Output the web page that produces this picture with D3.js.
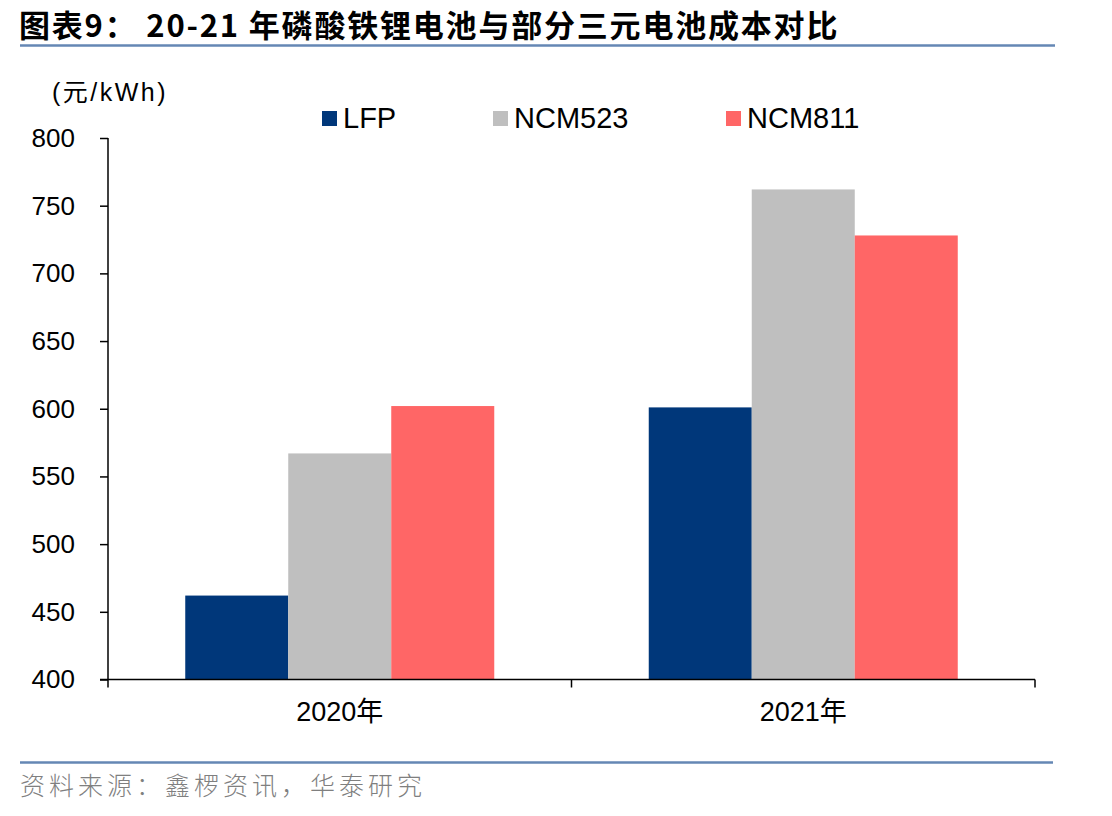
<!DOCTYPE html>
<html>
<head>
<meta charset="utf-8">
<script src="https://cdn.jsdelivr.net/npm/d3@7"></script>
<style>
  body { margin: 0; background: #fff; }
  text { font-family: Arial, "Liberation Sans", "Noto Sans CJK SC", sans-serif; }
</style>
</head>
<body>
<div id="chart"></div>
<script>
// chart data
var categories = ["2020年", "2021年"];
var seriesNames = ["LFP", "NCM523", "NCM811"];
var lfp = [462, 601];
var ncm523 = [567, 762];
var ncm811 = [602, 728];
var yTicks = [400, 450, 500, 550, 600, 650, 700, 750, 800];
var colors = ["#00377a", "#bfbfbf", "#ff6666"];

var width = 1112, height = 816;
var margin = { top: 138, left: 108, right: 77, bottom: 136 };

var svg = d3.select("#chart").append("svg")
    .attr("width", width)
    .attr("height", height);

// title + rule
svg.append("text")
    .attr("x", 19)
    .attr("y", 37)
    .style("font-family", "'Noto Sans CJK SC', sans-serif")
    .style("font-size", "31px")
    .style("font-weight", "bold")
    .style("letter-spacing", "1.8px")
    .text("图表9：  20-21 年磷酸铁锂电池与部分三元电池成本对比");

svg.append("line")
    .attr("x1", 20).attr("x2", 1055)
    .attr("y1", 45.5).attr("y2", 45.5)
    .attr("stroke", "#6587b4")
    .attr("stroke-width", 2.5);

var y = d3.scaleLinear()
    .domain([400, 800])
    .range([height - margin.bottom - 0.5, margin.top]);

var x0 = d3.scaleBand()
    .domain(categories)
    .range([margin.left, width - margin.right])
    .paddingInner(0)
    .paddingOuter(0);

var x1 = d3.scaleBand()
    .domain(seriesNames)
    .range([0, x0.bandwidth()])
    .paddingInner(0)
    .paddingOuter(0.75);

var rows = categories.map(function(c, i) {
    return { cat: c, values: [lfp[i], ncm523[i], ncm811[i]] };
});

var groups = svg.selectAll("g.grp")
    .data(rows)
    .enter()
    .append("g")
    .attr("class", "grp")
    .attr("transform", d => "translate(" + x0(d.cat) + ",0)");

groups.selectAll("rect")
    .data(d => d.values.map((v, i) => ({ name: seriesNames[i], value: v, i: i })))
    .enter()
    .append("rect")
    .attr("x", d => x1(d.name))
    .attr("width", x1.bandwidth())
    .attr("y", d => y(d.value))
    .attr("height", d => y(400) - y(d.value))
    .attr("fill", d => colors[d.i]);

// y axis
var yAxis = d3.axisLeft(y)
    .tickValues(yTicks)
    .tickSize(8)
    .tickPadding(25);

var gy = svg.append("g")
    .attr("transform", "translate(" + margin.left + ",0)")
    .call(yAxis);
gy.select(".domain").attr("d", "M0," + y(800) + "V" + y(400)).attr("stroke", "#000").attr("stroke-width", 1.5);
gy.selectAll(".tick line").attr("stroke", "#000").attr("stroke-width", 1.5);
gy.selectAll(".tick text")
    .style("font-size", "26px")
    .attr("fill", "#000");

// x axis
var xAxis = d3.axisBottom(x0).tickSize(0).tickPadding(22);
var gx = svg.append("g")
    .attr("transform", "translate(0," + y(400) + ")")
    .call(xAxis);
gx.select(".domain").attr("d", "M" + (margin.left - 8) + ",0H" + (width - margin.right)).attr("stroke", "#000").attr("stroke-width", 1.5);
gx.selectAll(".tick text")
    .style("font-size", "27px")
    .attr("fill", "#000");

// category boundary ticks
var bounds = [x0(categories[0]), x0(categories[1]), x0(categories[1]) + x0.bandwidth()];
gx.selectAll("line.sep")
    .data(bounds)
    .enter()
    .append("line")
    .attr("class", "sep")
    .attr("x1", d => d).attr("x2", d => d)
    .attr("y1", 0).attr("y2", 8)
    .attr("stroke", "#000")
    .attr("stroke-width", 1.5);

// unit label
svg.append("text")
    .attr("x", 52)
    .attr("y", 101)
    .style("font-size", "25px")
    .style("letter-spacing", "2.5px")
    .text("(元/kWh)");

// legend
var legendX = [322, 493, 726];
var legend = svg.selectAll("g.legend")
    .data(seriesNames)
    .enter()
    .append("g")
    .attr("class", "legend")
    .attr("transform", (d, i) => "translate(" + legendX[i] + ",111)");

legend.append("rect")
    .attr("width", 15)
    .attr("height", 15)
    .attr("fill", (d, i) => colors[i]);

legend.append("text")
    .attr("x", 21)
    .attr("y", 17)
    .style("font-size", "29px")
    .text(d => d);

// footer
svg.append("line")
    .attr("x1", 20).attr("x2", 1053)
    .attr("y1", 762.5).attr("y2", 762.5)
    .attr("stroke", "#6587b4")
    .attr("stroke-width", 2.5);

svg.append("text")
    .attr("x", 20)
    .attr("y", 795)
    .style("font-family", "'Noto Sans CJK SC', sans-serif")
    .style("font-size", "25px")
    .style("font-weight", "300")
    .style("letter-spacing", "4px")
    .attr("fill", "#7f7f7f")
    .text("资料来源：鑫椤资讯，华泰研究");
</script>
</body>
</html>
